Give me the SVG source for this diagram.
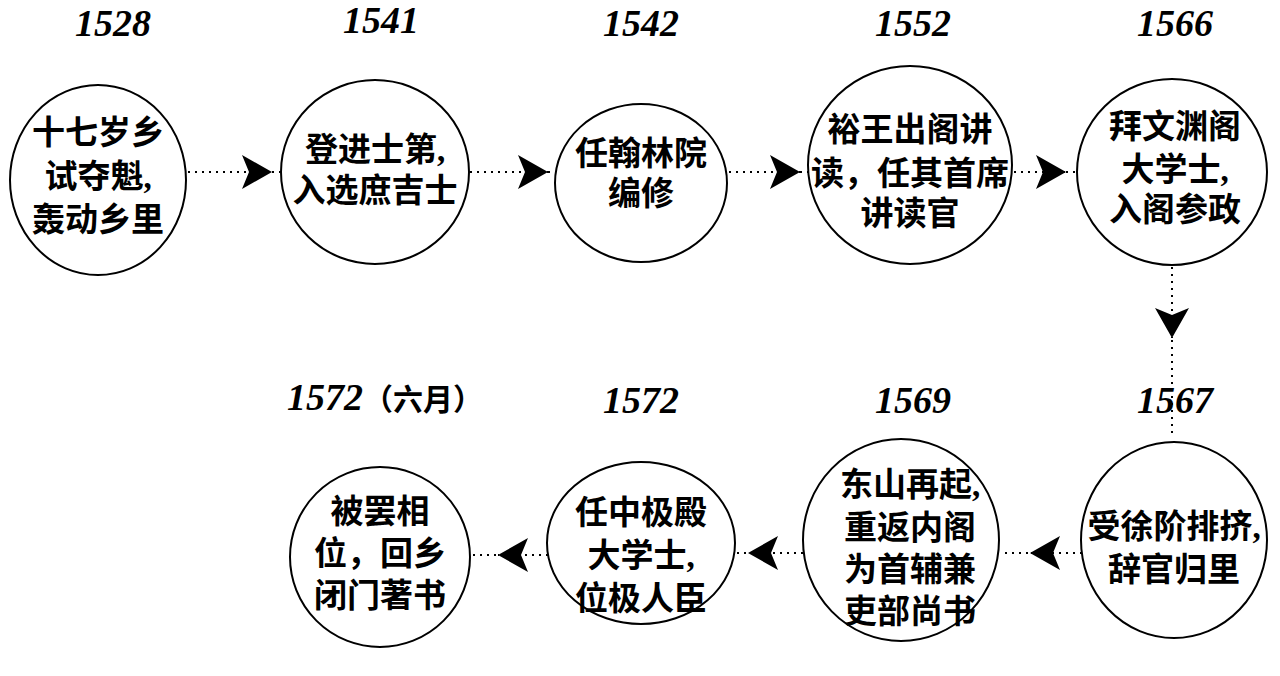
<svg xmlns="http://www.w3.org/2000/svg" width="1280" height="676" viewBox="0 0 1280 676">
<style>
.n{fill:#fff;stroke:#000;stroke-width:2}
.t{font-family:"Liberation Serif","Noto Sans CJK SC",serif;font-weight:bold;font-size:33px;text-anchor:middle;fill:#000}
.y{font-family:"Liberation Serif","Noto Sans CJK SC",serif;font-weight:bold;font-style:italic;font-size:38px;text-anchor:middle;fill:#000}
.c{stroke:#000;stroke-width:2;stroke-dasharray:2 5;fill:none}
</style>
<defs><marker id="b" markerWidth="32" markerHeight="34" refX="30" refY="17" orient="auto" markerUnits="userSpaceOnUse"><path d="M0,0 L30,17 L0,34 L7,17Z" fill="#000"/></marker></defs>
<rect width="1280" height="676" fill="#fff"/>
<g id="connectors">
<path class="c" d="M188,172H272" marker-end="url(#b)"/><path class="c" d="M272,172H280"/>
<path class="c" d="M470,172H548" marker-end="url(#b)"/><path class="c" d="M548,172H556"/>
<path class="c" d="M729,172H800" marker-end="url(#b)"/><path class="c" d="M800,172H808"/>
<path class="c" d="M1014,172H1066" marker-end="url(#b)"/><path class="c" d="M1066,172H1077"/>
<path class="c" d="M1172,267V338" marker-end="url(#b)"/><path class="c" d="M1172,340V435"/>
<path class="c" d="M1082,553H1030" marker-end="url(#b)"/><path class="c" d="M1028,553H1000"/>
<path class="c" d="M803,553H748" marker-end="url(#b)"/><path class="c" d="M746,553H735"/>
<path class="c" d="M548,555H498" marker-end="url(#b)"/><path class="c" d="M496,555H470"/>
</g>
<g id="n1"><text class="y" x="113" y="36">1528</text><ellipse class="n" cx="98" cy="180" rx="88" ry="95"/><text class="t" x="98" y="144">十七岁乡</text><text class="t" x="98" y="188">试夺魁,</text><text class="t" x="98" y="231">轰动乡里</text></g>
<g id="n2"><text class="y" x="381" y="33">1541</text><ellipse class="n" cx="375" cy="172" rx="94" ry="92"/><text class="t" x="375" y="161">登进士第,</text><text class="t" x="375" y="202">入选庶吉士</text></g>
<g id="n3"><text class="y" x="641" y="36">1542</text><ellipse class="n" cx="641" cy="183" rx="86" ry="79"/><text class="t" x="641" y="165">任翰林院</text><text class="t" x="641" y="205">编修</text></g>
<g id="n4"><text class="y" x="913" y="36">1552</text><ellipse class="n" cx="910" cy="165" rx="102" ry="99"/><text class="t" x="910" y="141">裕王出阁讲</text><text class="t" x="910" y="185">读，任其首席</text><text class="t" x="910" y="225">讲读官</text></g>
<g id="n5"><text class="y" x="1175" y="36">1566</text><ellipse class="n" cx="1172" cy="172" rx="95" ry="93"/><text class="t" x="1175" y="138">拜文渊阁</text><text class="t" x="1175" y="181">大学士,</text><text class="t" x="1175" y="221">入阁参政</text></g>
<g id="n6"><text class="y" x="1175" y="413">1567</text><ellipse class="n" cx="1174" cy="540" rx="93" ry="98"/><text class="t" x="1174" y="538">受徐阶排挤,</text><text class="t" x="1174" y="581">辞官归里</text></g>
<g id="n7"><text class="y" x="913" y="413">1569</text><ellipse class="n" cx="901" cy="540" rx="98" ry="101"/><text class="t" x="910" y="496">东山再起,</text><text class="t" x="910" y="539">重返内阁</text><text class="t" x="910" y="581">为首辅兼</text><text class="t" x="910" y="623">吏部尚书</text></g>
<g id="n8"><text class="y" x="641" y="413">1572</text><ellipse class="n" cx="641" cy="543" rx="94" ry="81"/><text class="t" x="641" y="524">任中极殿</text><text class="t" x="641" y="567">大学士,</text><text class="t" x="641" y="610">位极人臣</text></g>
<g id="n9"><text class="y" x="385" y="410">1572<tspan font-style="normal" font-size="30">（六月）</tspan></text><ellipse class="n" cx="380" cy="557" rx="90" ry="90"/><text class="t" x="380" y="523">被罢相</text><text class="t" x="380" y="565">位，回乡</text><text class="t" x="380" y="607">闭门著书</text></g>
</svg>
